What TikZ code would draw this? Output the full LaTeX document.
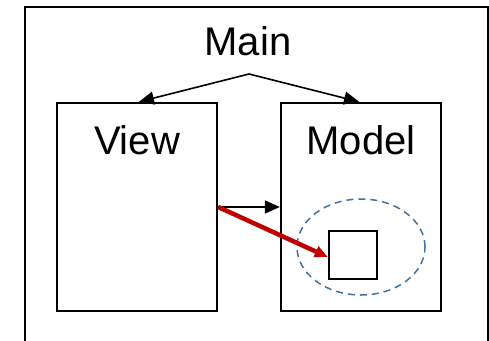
\documentclass[tikz,border=0pt]{standalone}
\usepackage{fontspec}
\setmainfont{Liberation Sans}
\usetikzlibrary{arrows.meta,shapes.geometric}
\definecolor{linkred}{HTML}{C00000}
\definecolor{dashblue}{HTML}{41719C}
\begin{document}
\begin{tikzpicture}[x=1pt,y=-1pt,
  frame/.style={draw=black,line width=2.4pt},
  panel/.style={draw=black,line width=2.4pt,rectangle,inner sep=0pt,
    minimum width=160pt,minimum height=208pt},
  title/.style={anchor=base,inner sep=0pt,font=\fontsize{40}{48}\selectfont},
  link/.style={line width=1.6pt,-{Triangle[length=15pt,width=13pt]}},
  hotlink/.style={draw=linkred,line width=4.5pt,-{Triangle[length=13pt,width=11pt]}},
  scopering/.style={draw=dashblue,line width=1.5pt,dash pattern=on 7pt off 5pt,
    ellipse,inner sep=0pt,minimum width=128pt,minimum height=96pt}]
  \useasboundingbox (0,0) rectangle (489,340);
  \clip (0,0) rectangle (489,340);
  % outer frame, its lower edge runs off the page
  \draw[frame] (25,7) rectangle (488,360);
  % titles and panels
  \node[title] (main) at (248,55) {Main};
  \node[panel] (view) at (137,207) {};
  \node[panel] (model) at (361,207) {};
  \node[title] (viewlabel) at (137,154) {View};
  \node[title] (modellabel) at (361,154) {Model};
  % component inside the model and its scope
  \node[scopering] (region) at (361,247) {};
  \node[draw=black,line width=2.4pt,rectangle,inner sep=0pt,
    minimum width=48pt,minimum height=48pt] (part) at (353,255) {};
  % connectors
  \coordinate (apex) at (249,74);
  \draw[link] (apex) -- ([xshift=2pt]view.north);
  \draw[link] (apex) -- ([xshift=-2pt]model.north);
  \draw[link] (view.east) -- (model.west);
  \draw[hotlink] (view.east) -- ([yshift=-2pt]part.west);
\end{tikzpicture}
\end{document}
